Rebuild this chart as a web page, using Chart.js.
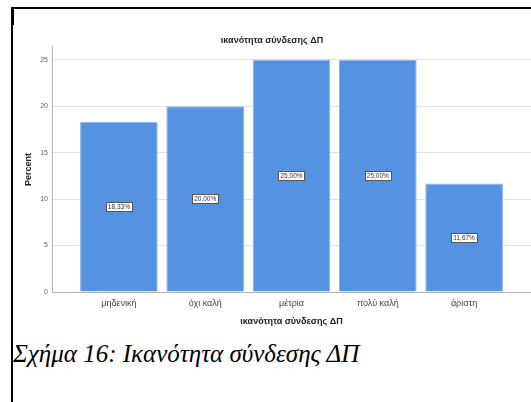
<!DOCTYPE html>
<html>
<head>
<meta charset="utf-8">
<script src="https://cdn.jsdelivr.net/npm/chart.js@4"></script>
<style>
  html, body { margin: 0; padding: 0; background: #fff; width: 531px; height: 402px; overflow: hidden; }
  #frameTop { position: absolute; left: 11px; top: 7px; width: 520px; height: 2px; background: #000; }
  #frameLeft { position: absolute; left: 11px; top: 7px; width: 2px; height: 395px; background: #000; }
  #frameCorner { position: absolute; left: 11px; top: 7px; width: 3px; height: 18px; background: #000; }
  #wrap { position: absolute; left: 13px; top: 10px; width: 518px; height: 322px; }
  #caption { position: absolute; left: 13px; top: 340px; font-family: "Liberation Serif", "Times New Roman", serif;
             font-style: italic; font-size: 25px; color: #000; white-space: nowrap; }
</style>
</head>
<body>
<div id="frameTop"></div>
<div id="frameLeft"></div>
<div id="frameCorner"></div>
<div id="wrap"><canvas id="c" width="518" height="322"></canvas></div>
<div id="caption">Σχήμα 16: Ικανότητα σύνδεσης ΔΠ</div>
<script>
// Response categories and their percentage of respondents
const categories = ['μηδενική', 'όχι καλή', 'μέτρια', 'πολύ καλή', 'άριστη'];
const percents = [18.33, 20.00, 25.00, 25.00, 11.67];
const yTicks = [0, 5, 10, 15, 20, 25];
const chartTitle = 'ικανότητα σύνδεσης ΔΠ';
const xTitle = 'ικανότητα σύνδεσης ΔΠ';
const yTitle = 'Percent';

const FONT = '"Liberation Sans", Arial, sans-serif';

// Boxed percentage label in the middle of every bar
const valueLabels = {
  id: 'valueLabels',
  afterDatasetsDraw(chart) {
    const ctx = chart.ctx;
    const meta = chart.getDatasetMeta(0);
    ctx.save();
    ctx.font = '6.5px ' + FONT;
    ctx.textAlign = 'center';
    ctx.textBaseline = 'middle';
    meta.data.forEach((bar, i) => {
      const txt = percents[i].toFixed(2).replace('.', ',') + '%';
      const cx = bar.x;
      const cy = (bar.y + bar.base) / 2;
      const w = ctx.measureText(txt).width + 4;
      const h = 9;
      ctx.fillStyle = '#fff';
      ctx.fillRect(Math.round(cx - w / 2) + 0.5, Math.round(cy - h / 2) + 0.5, Math.round(w), h);
      ctx.strokeStyle = '#555';
      ctx.lineWidth = 1;
      ctx.strokeRect(Math.round(cx - w / 2) + 0.5, Math.round(cy - h / 2) + 0.5, Math.round(w), h);
      ctx.fillStyle = '#333';
      ctx.fillText(txt, cx, cy + 0.5);
    });
    ctx.restore();
  }
};

new Chart(document.getElementById('c'), {
  type: 'bar',
  data: {
    datasets: [{
      data: percents.map((v, i) => ({ x: i, y: v })),
      backgroundColor: '#5593e2',
      borderColor: '#8db5ec',
      borderWidth: 1,
      barPercentage: 0.9,
      categoryPercentage: 1.0
    }]
  },
  options: {
    responsive: false,
    animation: false,
    events: [],
    layout: { padding: { left: 0, right: 0, top: 0, bottom: 0 } },
    plugins: {
      legend: { display: false },
      tooltip: { enabled: false },
      title: {
        display: true,
        text: chartTitle,
        color: '#222',
        font: { family: FONT, size: 9, weight: 'bold' },
        padding: { top: 25, bottom: 1 }
      }
    },
    scales: {
      x: {
        type: 'linear',
        offset: false,
        min: -0.775,
        max: 4.775,
        afterBuildTicks: s => { s.ticks = categories.map((_, i) => ({ value: i })); },
        afterFit: s => { s.height = 40; },
        grid: { color: 'transparent', drawTicks: false, offset: false },
        border: { display: true, color: '#b4b4b4', width: 1 },
        ticks: {
          autoSkip: false,
          maxRotation: 0,
          padding: 6,
          color: '#444',
          font: { family: FONT, size: 9 },
          callback: v => categories[v]
        },
        title: {
          display: true,
          text: xTitle,
          color: '#222',
          font: { family: FONT, size: 9, weight: 'bold' },
          padding: { top: 0, bottom: 5 }
        }
      },
      y: {
        min: 0,
        max: 26.4,
        afterBuildTicks: s => { s.ticks = yTicks.map(v => ({ value: v })); },
        afterFit: s => { s.width = 39; },
        grid: { color: '#e2e2e2', drawTicks: false },
        border: { display: true, color: '#b4b4b4', width: 1 },
        ticks: {
          padding: 4,
          color: '#666',
          font: { family: FONT, size: 7 }
        },
        title: {
          display: true,
          text: yTitle,
          color: '#222',
          font: { family: FONT, size: 9, weight: 'bold' },
          padding: { top: 10, bottom: 0 }
        }
      }
    }
  },
  plugins: [valueLabels]
});
</script>
</body>
</html>
